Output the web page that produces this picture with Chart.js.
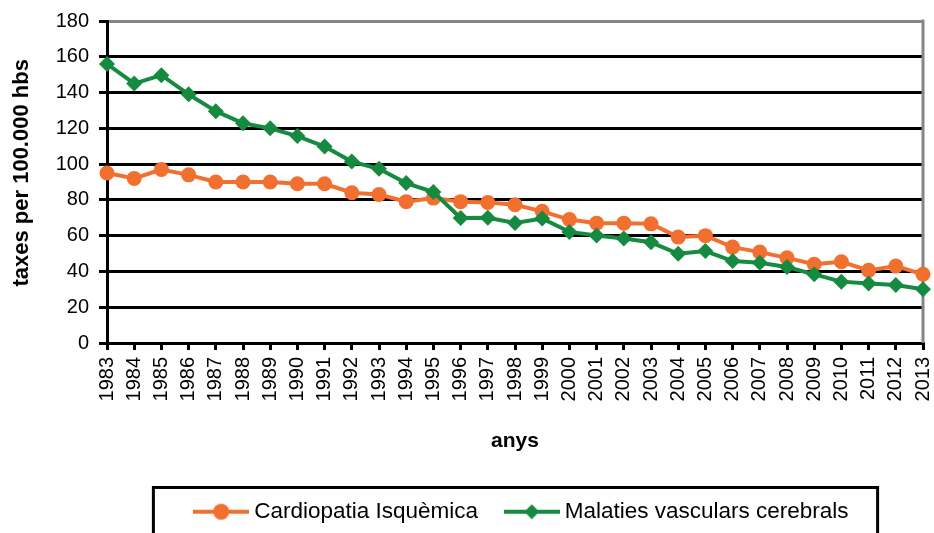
<!DOCTYPE html>
<html>
<head>
<meta charset="utf-8">
<script src="https://cdn.jsdelivr.net/npm/chart.js@4/dist/chart.umd.min.js"></script>
<style>
  html, body { margin: 0; padding: 0; background: #fff; }
  #chart { display: block; }
</style>
</head>
<body>
<canvas id="chart" width="934" height="533"></canvas>
<script>
const years = ['1983', '1984', '1985', '1986', '1987', '1988', '1989', '1990', '1991', '1992',
    '1993', '1994', '1995', '1996', '1997', '1998', '1999', '2000', '2001', '2002',
    '2003', '2004', '2005', '2006', '2007', '2008', '2009', '2010', '2011', '2012', '2013'];

const cardiopatia = [95, 92, 97, 94, 90, 90, 90, 89, 89, 84,
    83, 79, 81, 79, 78.6, 77.3, 73.6, 69, 67, 67,
    66.6, 59.2, 60, 53.6, 50.8, 47.6, 44, 45.4, 40.6, 43, 38.4];

const malaties = [156, 145, 149.7, 139, 129.6, 122.8, 120, 115.7, 109.8, 101.4,
    97.4, 89.4, 84.4, 69.9, 70, 67.1, 69.6, 62.1, 60.1, 58.4,
    56.3, 49.9, 51.4, 45.8, 44.9, 42.5, 38.4, 34.3, 33.2, 32.4, 30];

const seriesNames = ['Cardiopatia Isquèmica', 'Malaties vasculars cerebrals'];
const yTicks = [0, 20, 40, 60, 80, 100, 120, 140, 160, 180];

const ORANGE = '#F2702F';
const GREEN = '#178A41';

Chart.defaults.font.family = "'Liberation Sans', Arial, sans-serif";
Chart.defaults.color = '#000';

// legend swatch: line with its marker on top, like the spreadsheet legend
function makeSwatch(color, shape) {
    const c = document.createElement('canvas');
    c.width = 56;
    c.height = 20;
    const g = c.getContext('2d');
    g.strokeStyle = color;
    g.fillStyle = color;
    g.lineWidth = 4;
    g.beginPath();
    g.moveTo(0, 10);
    g.lineTo(56, 10);
    g.stroke();
    g.beginPath();
    if (shape === 'circle') {
        g.arc(28, 10, 8, 0, Math.PI * 2);
    } else {
        g.moveTo(28, 2.5);
        g.lineTo(35.5, 10);
        g.lineTo(28, 17.5);
        g.lineTo(20.5, 10);
        g.closePath();
    }
    g.fill();
    return c;
}
const swatches = [makeSwatch(ORANGE, 'circle'), makeSwatch(GREEN, 'diamond')];

// gray frame on the right side of the plot area
const rightFrame = {
    id: 'rightFrame',
    beforeDatasetsDraw(chart) {
        const {ctx, chartArea} = chart;
        ctx.save();
        ctx.strokeStyle = '#868686';
        ctx.lineWidth = 3;
        ctx.beginPath();
        ctx.moveTo(chartArea.right, chartArea.top - 1.5);
        ctx.lineTo(chartArea.right, chartArea.bottom);
        ctx.stroke();
        ctx.restore();
    }
};

// black box around the legend; the legend row sits a bit right of centre
const legendFrame = {
    id: 'legendFrame',
    afterLayout(chart) {
        chart.legend.left += 9;
        chart.legend.right += 9;
    },
    afterDraw(chart) {
        const boxes = chart.legend.legendHitBoxes;
        if (!boxes || !boxes.length) return;
        const first = boxes[0];
        const last = boxes[boxes.length - 1];
        const left = first.left - 46;
        const right = last.left + last.width + 29;
        const top = first.top - 13;
        const {ctx} = chart;
        ctx.save();
        ctx.strokeStyle = '#000';
        ctx.lineWidth = 3;
        ctx.strokeRect(left, top, right - left, chart.height + 20 - top);
        ctx.restore();
    }
};

new Chart(document.getElementById('chart').getContext('2d'), {
    type: 'line',
    data: {
        labels: years,
        datasets: [{
            label: seriesNames[0],
            data: cardiopatia,
            borderColor: ORANGE,
            backgroundColor: ORANGE,
            borderWidth: 4,
            pointStyle: 'circle',
            pointRadius: 7.5,
            pointBorderWidth: 0,
            pointBackgroundColor: ORANGE,
            tension: 0,
            clip: false,
            order: 2
        }, {
            label: seriesNames[1],
            data: malaties,
            borderColor: GREEN,
            backgroundColor: GREEN,
            borderWidth: 4,
            pointStyle: 'rectRot',
            pointRadius: 8,
            pointBorderWidth: 0,
            pointBackgroundColor: GREEN,
            tension: 0,
            clip: false,
            order: 1
        }]
    },
    options: {
        responsive: false,
        animation: false,
        layout: {padding: {left: 0, right: 11, top: 21, bottom: 0}},
        plugins: {
            tooltip: {enabled: false},
            legend: {
                position: 'bottom',
                fullSize: false,
                labels: {
                    usePointStyle: true,
                    pointStyleWidth: 43.5,
                    padding: 32,
                    color: '#000',
                    font: {size: 22.5},
                    sort: (a, b) => a.datasetIndex - b.datasetIndex,
                    generateLabels(chart) {
                        const items = Chart.defaults.plugins.legend.labels.generateLabels(chart);
                        items.forEach(it => { it.pointStyle = swatches[it.datasetIndex]; });
                        return items;
                    }
                }
            }
        },
        scales: {
            x: {
                type: 'category',
                offset: false,
                afterFit(scale) {
                    scale.height = 125.5;
                    scale.paddingLeft = 0;
                    scale.paddingRight = 0;
                },
                grid: {
                    drawOnChartArea: false,
                    color: '#000',
                    lineWidth: 3,
                    tickLength: 7
                },
                border: {display: true, color: '#000', width: 3},
                ticks: {
                    autoSkip: false,
                    maxRotation: 90,
                    minRotation: 90,
                    padding: 7,
                    color: '#000',
                    font: {size: 20}
                },
                title: {
                    display: true,
                    text: 'anys',
                    color: '#000',
                    font: {size: 21, weight: 'bold'},
                    padding: {top: 0, bottom: 15}
                }
            },
            y: {
                min: 0,
                max: 180,
                afterFit(scale) {
                    scale.width = 107;
                    scale.paddingTop = 0;
                    scale.paddingBottom = 0;
                },
                afterBuildTicks(scale) { scale.ticks = yTicks.map(v => ({value: v})); },
                grid: {
                    color: ctx => (ctx.tick && ctx.tick.value === 180 ? '#868686' : '#000'),
                    tickColor: '#000',
                    lineWidth: 3,
                    tickLength: 8
                },
                border: {display: true, color: '#000', width: 3},
                ticks: {
                    padding: 10,
                    color: '#000',
                    font: {size: 20}
                },
                title: {
                    display: true,
                    // leading spaces lift the text a little, as in the original
                    text: '   taxes per 100.000 hbs',
                    color: '#000',
                    font: {size: 22, weight: 'bold'},
                    padding: {top: 9, bottom: 0}
                }
            }
        }
    },
    plugins: [rightFrame, legendFrame]
});
</script>
</body>
</html>
